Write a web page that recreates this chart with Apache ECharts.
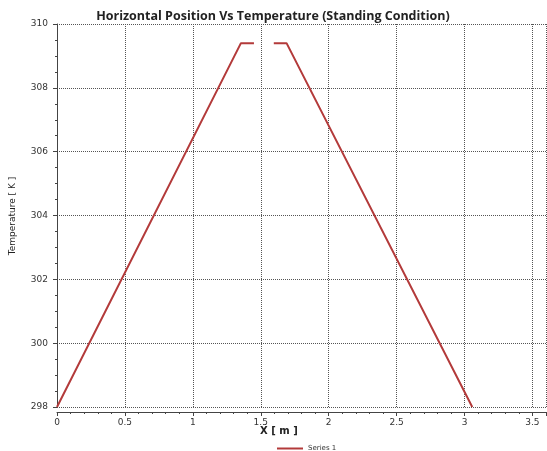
<!DOCTYPE html>
<html><head><meta charset="utf-8">
<script src="https://cdn.jsdelivr.net/npm/echarts@6/dist/echarts.min.js"></script>
<style>html,body{margin:0;padding:0;background:#fff}#c{width:547px;height:451px}</style>
</head><body><div id="c"></div>
<script>
const xValues = [0, 1.354, 1.45, 1.52, 1.596, 1.69, 3.057];
const temperature = [298, 309.4, 309.4, null, 309.4, 309.4, 298];
const seriesName = 'Series 1';
const chartTitle = 'Horizontal Position Vs Temperature (Standing Condition)';
const xName = 'X [ m ]';
const yName = 'Temperature [ K ]';

const chart = echarts.init(document.getElementById('c'));
const data = xValues.map((x, i) => [x, temperature[i]]);
chart.setOption({
  animation: false,
  title: {
    text: chartTitle, left: 268, top: 5, textAlign: 'center',
    textStyle: {fontFamily: 'Open Sans', fontWeight: 'bold', fontSize: 12.5, color: '#222'}
  },
  legend: {
    data: [seriesName], left: 272, top: 440, itemWidth: 26, itemHeight: 2, itemGap: 4,
    icon: 'rect',
    textStyle: {fontFamily: 'DejaVu Sans', fontSize: 7, color: '#333'}
  },
  grid: {left: 57, right: 1, top: 24, bottom: 44, containLabel: false},
  xAxis: {
    type: 'value', min: 0, max: 3.6, interval: 0.5,
    offset: 5,
    axisLine: {show: true, lineStyle: {color: '#444', width: 1}},
    axisTick: {show: true, length: 4, lineStyle: {color: '#444'}},
    minorTick: {show: true, splitNumber: 5, length: 2, lineStyle: {color: '#444'}},
    axisLabel: {showMaxLabel: false, fontFamily: 'DejaVu Sans', fontSize: 9, color: '#333', margin: 6},
    splitLine: {show: true, lineStyle: {type: 'dotted', color: '#555', width: 1}}
  },
  yAxis: {
    type: 'value', min: 298, max: 310, interval: 2,
    offset: 4,
    axisLine: {show: true, lineStyle: {color: '#444', width: 1}},
    axisTick: {show: true, length: 4, lineStyle: {color: '#444'}},
    minorTick: {show: true, splitNumber: 4, length: 2, lineStyle: {color: '#444'}},
    axisLabel: {fontFamily: 'DejaVu Sans', fontSize: 9, color: '#333', margin: 5},
    splitLine: {show: true, lineStyle: {type: 'dotted', color: '#555', width: 1}}
  },
  graphic: [
    {type: 'text', left: 260, top: 426, style: {text: xName, font: 'bold 10px "DejaVu Sans"', fill: '#222'}},
    {type: 'text', x: 13, y: 216, rotation: Math.PI / 2, style: {text: yName, font: '9px "DejaVu Sans"', fill: '#222', textAlign: 'center', textVerticalAlign: 'middle'}}
  ],
  series: [{
    name: seriesName, type: 'line', data: data, showSymbol: false, connectNulls: false,
    lineStyle: {color: '#b33a3a', width: 2}, itemStyle: {color: '#b33a3a'}
  }]
});
</script></body></html>
